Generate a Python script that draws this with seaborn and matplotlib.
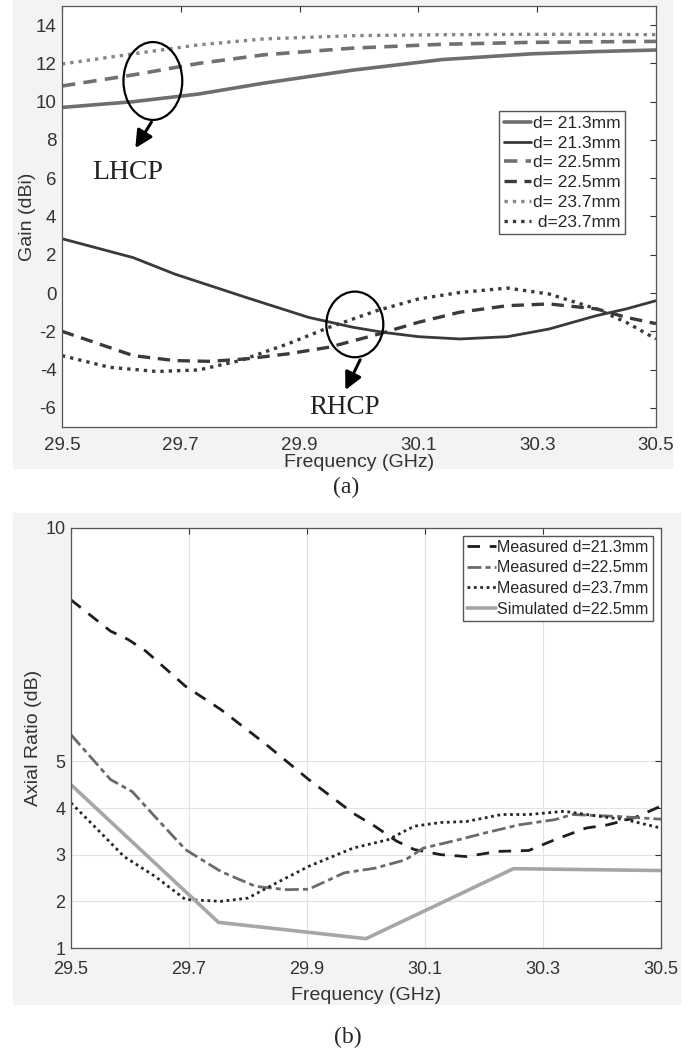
import matplotlib
matplotlib.use("Agg")
import matplotlib.pyplot as plt
from matplotlib.patches import Ellipse, Rectangle
import seaborn as sns

# ---- (a) gain data ----
freq_lhcp = [29.5, 29.62, 29.73, 29.84, 29.99, 30.14, 30.29, 30.4, 30.5]
lhcp_213 = [9.7, 10.0, 10.4, 10.97, 11.65, 12.2, 12.5, 12.62, 12.7]
lhcp_225 = [10.82, 11.4, 12.0, 12.45, 12.8, 13.0, 13.1, 13.13, 13.15]
lhcp_237 = [11.97, 12.5, 12.97, 13.28, 13.45, 13.5, 13.52, 13.52, 13.5]

freq_rhcp_213 = [29.5, 29.62, 29.69, 29.81, 29.915, 29.99, 30.04, 30.1, 30.17, 30.25, 30.32, 30.4, 30.45, 30.5]
rhcp_213 = [2.84, 1.85, 0.99, -0.23, -1.27, -1.79, -2.05, -2.28, -2.4, -2.28, -1.88, -1.18, -0.83, -0.4]
freq_rhcp_225 = [29.5, 29.62, 29.69, 29.75, 29.81, 29.88, 29.95, 30.03, 30.1, 30.17, 30.25, 30.32, 30.4, 30.45, 30.5]
rhcp_225 = [-2.0, -3.27, -3.53, -3.57, -3.44, -3.18, -2.83, -2.17, -1.53, -1.0, -0.66, -0.57, -0.83, -1.27, -1.6]
freq_rhcp_237 = [29.5, 29.58, 29.66, 29.73, 29.8, 29.88, 29.95, 30.03, 30.1, 30.17, 30.25, 30.32, 30.4, 30.45, 30.5]
rhcp_237 = [-3.27, -3.88, -4.1, -4.02, -3.53, -2.66, -1.79, -0.92, -0.31, 0.03, 0.26, -0.05, -0.83, -1.53, -2.4]

gain_labels = ["d= 21.3mm", "d= 21.3mm", "d= 22.5mm", "d= 22.5mm", "d= 23.7mm", " d=23.7mm"]

# ---- (b) axial ratio data ----
ar_f_213 = [29.5, 29.567, 29.597, 29.627, 29.694, 29.754, 29.828, 29.903, 29.978, 30.015, 30.052,
            30.082, 30.127, 30.17, 30.224, 30.276, 30.32, 30.373, 30.41, 30.455, 30.5]
ar_213 = [8.46, 7.79, 7.61, 7.36, 6.61, 6.11, 5.39, 4.61, 3.89, 3.61, 3.29,
          3.11, 3.0, 2.96, 3.07, 3.09, 3.32, 3.57, 3.64, 3.79, 4.04]
ar_f_225 = [29.5, 29.567, 29.604, 29.642, 29.694, 29.754, 29.813, 29.866, 29.903, 29.963,
            30.015, 30.067, 30.097, 30.157, 30.2, 30.26, 30.32, 30.35, 30.425, 30.5]
ar_225 = [5.57, 4.61, 4.35, 3.82, 3.11, 2.64, 2.32, 2.25, 2.26, 2.61,
          2.71, 2.89, 3.14, 3.32, 3.46, 3.64, 3.75, 3.86, 3.82, 3.76]
ar_f_237 = [29.5, 29.545, 29.59, 29.642, 29.694, 29.754, 29.8, 29.843, 29.903, 29.978,
            30.037, 30.082, 30.127, 30.17, 30.23, 30.276, 30.336, 30.396, 30.44, 30.5]
ar_237 = [4.11, 3.54, 2.96, 2.54, 2.04, 2.0, 2.07, 2.36, 2.75, 3.14,
          3.32, 3.61, 3.69, 3.71, 3.86, 3.86, 3.93, 3.82, 3.75, 3.57]
ar_f_sim = [29.5, 29.75, 30.0, 30.25, 30.5]
ar_sim = [4.5, 1.55, 1.2, 2.7, 2.66]

ar_labels = ["Measured d=21.3mm", "Measured d=22.5mm", "Measured d=23.7mm", "Simulated d=22.5mm"]

freq_ticks = [29.5, 29.7, 29.9, 30.1, 30.3, 30.5]

sns.set_style("white")
plt.rcParams["font.family"] = ["Liberation Sans", "DejaVu Sans"]
plt.rcParams["axes.unicode_minus"] = False
serif = ["Liberation Serif", "DejaVu Serif"]

fig = plt.figure(figsize=(6.91, 10.53), dpi=100)
# light grey matlab figure backgrounds
fig.patches.append(Rectangle((0.019, 0.5556), 0.954, 0.4444, transform=fig.transFigure,
                             color="#f3f3f3", zorder=-10))
fig.patches.append(Rectangle((0.019, 0.047), 0.965, 0.466, transform=fig.transFigure,
                             color="#f3f3f3", zorder=-10))

ax1 = fig.add_axes([0.0897, 0.5945, 0.8596, 0.3998])
ax2 = fig.add_axes([0.1027, 0.0997, 0.8538, 0.3989])

dash_a = (0, (3.7, 2.3))
dot_a = (0, (1, 1.5))

# ---- (a) ----
sns.lineplot(x=freq_lhcp, y=lhcp_213, ax=ax1, color="#6e6e6e", lw=2.6, label=gain_labels[0])
sns.lineplot(x=freq_rhcp_213, y=rhcp_213, ax=ax1, color="#3a3a3a", lw=2.0, label=gain_labels[1])
sns.lineplot(x=freq_lhcp, y=lhcp_225, ax=ax1, color="#707070", lw=2.6, linestyle=dash_a, label=gain_labels[2])
sns.lineplot(x=freq_rhcp_225, y=rhcp_225, ax=ax1, color="#3a3a3a", lw=2.4, linestyle=dash_a, label=gain_labels[3])
sns.lineplot(x=freq_lhcp, y=lhcp_237, ax=ax1, color="#858585", lw=2.4, linestyle=dot_a, label=gain_labels[4])
sns.lineplot(x=freq_rhcp_237, y=rhcp_237, ax=ax1, color="#3a3a3a", lw=2.4, linestyle=dot_a, label=gain_labels[5])

ax1.set_xlim(29.5, 30.5)
ax1.set_ylim(-7, 15)
ax1.set_xticks(freq_ticks)
ax1.set_xticklabels([f"{v:.1f}" for v in freq_ticks])
ax1.set_yticks(range(-6, 15, 2))
ax1.set_xlabel("Frequency (GHz)", fontsize=14, color="#333333", labelpad=0)
ax1.set_ylabel("Gain (dBi)", fontsize=14, color="#333333", labelpad=0)

# ellipses and arrows marking the LHCP / RHCP groups
ax1.add_patch(Ellipse((29.653, 11.08), 0.099, 4.07, fill=False, ec="black", lw=1.6, zorder=5))
ax1.annotate("", xy=(29.621, 7.45), xytext=(29.653, 9.05),
             arrowprops=dict(arrowstyle="-|>", color="black", lw=2.2, mutation_scale=26))
ax1.text(29.611, 6.32, "LHCP", family=serif, fontsize=20, ha="center", va="center", color="#222222")

ax1.add_patch(Ellipse((29.993, -1.64), 0.096, 3.43, fill=False, ec="black", lw=1.6, zorder=5))
ax1.annotate("", xy=(29.975, -5.2), xytext=(30.004, -3.36),
             arrowprops=dict(arrowstyle="-|>", color="black", lw=2.2, mutation_scale=26))
ax1.text(29.975, -6.0, "RHCP", family=serif, fontsize=19.5, ha="center", va="center", color="#222222")

h, l = ax1.get_legend_handles_labels()
ax1.legend(h, l, loc="upper right", bbox_to_anchor=(0.948, 0.75), fontsize=12.5,
           frameon=True, fancybox=False, edgecolor="#555555", framealpha=1,
           handlelength=1.6, handletextpad=0.1, labelspacing=0.27, borderpad=0.25,
           borderaxespad=0)

# ---- (b) ----
sns.lineplot(x=ar_f_213, y=ar_213, ax=ax2, color="#1e1e1e", lw=2.0, linestyle=(0, (4.5, 3.5)), label=ar_labels[0])
sns.lineplot(x=ar_f_225, y=ar_225, ax=ax2, color="#6a6a6a", lw=2.0, linestyle=(0, (5, 1.5, 1.8, 1.5)), label=ar_labels[1])
sns.lineplot(x=ar_f_237, y=ar_237, ax=ax2, color="#262626", lw=2.0, linestyle=(0, (1, 1.3)), label=ar_labels[2])
sns.lineplot(x=ar_f_sim, y=ar_sim, ax=ax2, color="#a6a6a6", lw=2.6, label=ar_labels[3])

ax2.set_xlim(29.5, 30.5)
ax2.set_ylim(1, 10)
ax2.set_xticks(freq_ticks)
ax2.set_xticklabels([f"{v:.1f}" for v in freq_ticks])
ax2.set_yticks([1, 2, 3, 4, 5, 10])
ax2.grid(True, color="#e2e2e2", lw=0.8)
ax2.set_xlabel("Frequency (GHz)", fontsize=14, color="#333333", labelpad=7)
ax2.set_ylabel("Axial Ratio (dB)", fontsize=14, color="#333333", labelpad=2.5)

h, l = ax2.get_legend_handles_labels()
ax2.legend(h, l, loc="upper right", bbox_to_anchor=(0.986, 0.982), fontsize=11.5,
           frameon=True, fancybox=False, edgecolor="#555555", framealpha=1,
           handlelength=1.8, handletextpad=0.1, labelspacing=0.36, borderpad=0.25,
           borderaxespad=0)

for ax in (ax1, ax2):
    ax.set_facecolor("white")
    ax.tick_params(direction="in", length=4, width=0.8, top=True, right=True,
                   labelsize=13.5, colors="#333333", pad=7)
    for s in ax.spines.values():
        s.set_color("#555555")
        s.set_linewidth(0.9)
ax1.tick_params(axis="y", pad=4)
ax2.tick_params(axis="y", pad=4, labelsize=13)
ax2.tick_params(axis="x", pad=9, labelsize=13)

fig.text(0.501, 1 - 487 / 1053, "(a)", family=serif, fontsize=17, ha="center", va="center")
fig.text(0.504, 1 - 1037 / 1053, "(b)", family=serif, fontsize=17, ha="center", va="center")

fig.savefig("out.png", dpi=100, facecolor="white")
